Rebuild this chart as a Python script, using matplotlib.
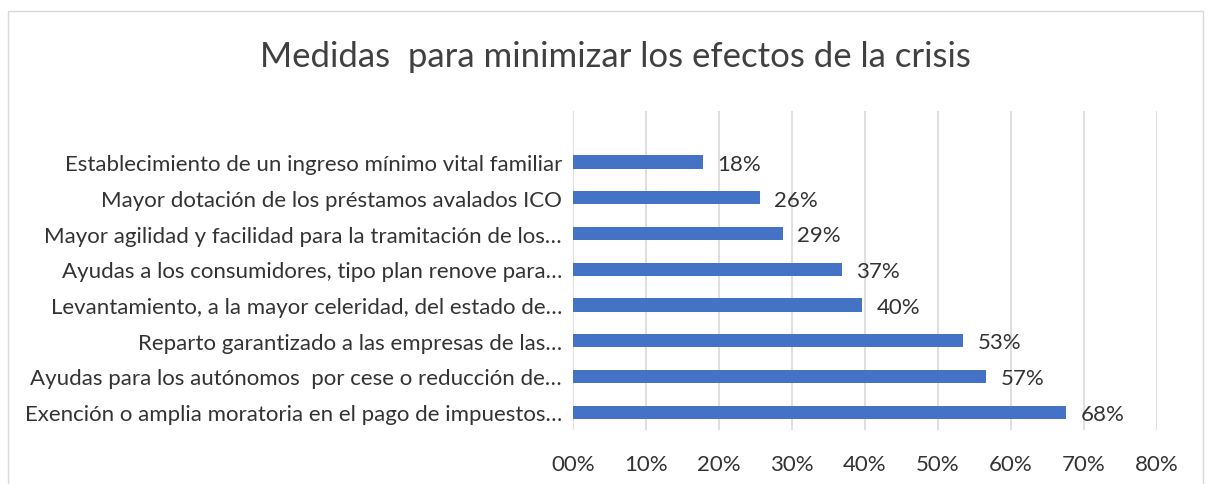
import matplotlib.pyplot as plt
from matplotlib.patches import Rectangle
from matplotlib.ticker import FuncFormatter

plt.rcParams['font.family'] = ['Lato', 'DejaVu Sans']

# Datos (de abajo hacia arriba, como en el grafico)
medidas = [
    'Exención o amplia moratoria en el pago de impuestos…',
    'Ayudas para los autónomos  por cese o reducción de…',
    'Reparto garantizado a las empresas de las…',
    'Levantamiento, a la mayor celeridad, del estado de…',
    'Ayudas a los consumidores, tipo plan renove para…',
    'Mayor agilidad y facilidad para la tramitación de los…',
    'Mayor dotación de los préstamos avalados ICO',
    'Establecimiento de un ingreso mínimo vital familiar',
]
porcentajes = [0.676, 0.566, 0.534, 0.396, 0.368, 0.287, 0.256, 0.178]
xticks = [0, 0.1, 0.2, 0.3, 0.4, 0.5, 0.6, 0.7, 0.8]

texto = '#333333'
fig = plt.figure(figsize=(12.1, 4.85), dpi=100)
fig.patches.append(Rectangle((8 / 1210, -0.1), 1195 / 1210, 1.1 - 12 / 485,
                             transform=fig.transFigure, fill=False,
                             edgecolor='#d9d9d9', linewidth=1))

ax = fig.add_axes([573 / 1210, 1 - 431 / 485, 584 / 1210, 319 / 485])
y = range(len(medidas))
ax.barh(y, porcentajes, height=0.37, color='#4472C4', zorder=3)
for yi, v in zip(y, porcentajes):
    ax.text(v + 0.02, yi - 0.05, f'{round(v * 100):d}%', va='center', ha='left',
            fontsize=16, color=texto)

ax.set_xlim(0, 0.8)
ax.set_ylim(-0.5, 8.43)
ax.set_xticks(xticks)
ax.xaxis.set_major_formatter(FuncFormatter(lambda v, p: f'{round(v * 100):02d}%'))
ax.set_yticks(list(y))
ax.set_yticklabels(medidas)
ax.tick_params(axis='x', length=0, pad=17, labelsize=16, labelcolor=texto)
ax.tick_params(axis='y', length=0, pad=8, labelsize=16, labelcolor=texto)
ax.grid(axis='x', color='#d9d9d9', linewidth=1.2, zorder=0)
for s in ax.spines.values():
    s.set_visible(False)

fig.text(615 / 1210, 1 - 57 / 485, 'Medidas  para minimizar los efectos de la crisis',
         ha='center', va='center', fontsize=25, color='#404040')

fig.savefig('out.png', dpi=100)
